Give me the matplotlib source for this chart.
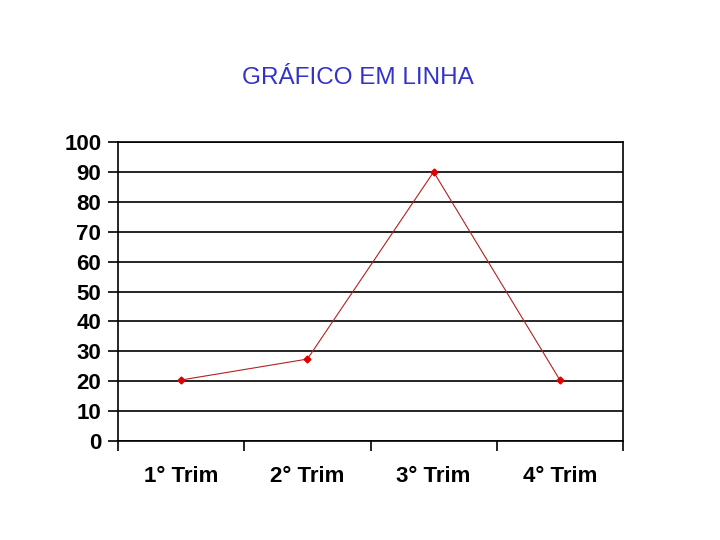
import matplotlib
matplotlib.use("Agg")
import matplotlib.pyplot as plt
from matplotlib.ticker import FixedLocator

categories = ["1° Trim", "2° Trim", "3° Trim", "4° Trim"]
values = [20.4, 27.4, 90, 20.4]
yticks = [0, 10, 20, 30, 40, 50, 60, 70, 80, 90, 100]

plt.rcParams['font.family'] = ['Liberation Sans', 'DejaVu Sans']

fig = plt.figure(figsize=(7.2, 5.4), dpi=100)
ax = fig.add_axes([118/720, 1-441/540, (623-118)/720, (441-142)/540])

x = list(range(1, len(categories) + 1))
ax.plot(x, values, color="#B22222", lw=0.8, zorder=3)
ax.plot(x, values, ls="none", marker="D", ms=3.5, color="#DD0000", zorder=4)

ax.set_xlim(0.5, len(categories) + 0.5)
ax.set_ylim(0, 100)
ax.set_yticks(yticks)
ax.set_yticklabels([str(v) for v in yticks], fontsize=16, fontweight="bold")
ax.yaxis.grid(True, color="black", lw=1.2)
ax.set_axisbelow(True)

ax.set_xticks(x)
ax.set_xticklabels(categories, fontsize=16, fontweight="bold")
ax.tick_params(axis="x", which="major", length=0, pad=18)
ax.xaxis.set_minor_locator(FixedLocator([0.5 + i for i in range(len(categories) + 1)]))
ax.tick_params(axis="x", which="minor", length=7, width=1.2, direction="out")
ax.tick_params(axis="y", length=7, width=1.2, direction="out", pad=5)

for s in ax.spines.values():
    s.set_linewidth(1.2)
    s.set_color("black")

fig.text(358/720, 1-78/540, "GRÁFICO EM LINHA", ha="center", va="center",
         fontsize=17.5, color="#3333CC")

fig.savefig("out.png", dpi=100)
